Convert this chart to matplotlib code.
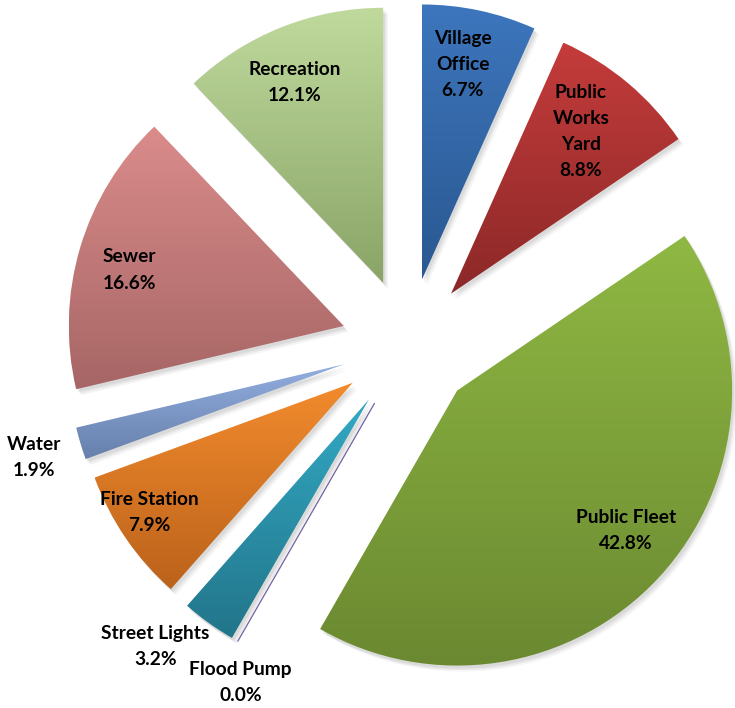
import matplotlib
matplotlib.use('Agg')
import matplotlib.pyplot as plt
import numpy as np
from matplotlib.colors import to_rgb
from matplotlib.patches import Wedge

# Data (clockwise from 12 o'clock)
categories = ['Village\nOffice', 'Public\nWorks\nYard', 'Public Fleet', 'Flood Pump',
              'Street Lights', 'Fire Station', 'Water', 'Sewer', 'Recreation']
shares = [6.7, 8.8, 42.8, 0.0, 3.2, 7.9, 1.9, 16.6, 12.1]

# Gradient colours (top, bottom) per slice
top_colors = ['#3d76bd', '#c43c3b', '#8fb843', '#7363a6', '#33a9c4',
              '#f28b2d', '#93afe0', '#da8c8b', '#bfda9c']
bottom_colors = ['#2a5891', '#8c2828', '#6b8931', '#5b4d8a', '#22758a',
                 '#bb621b', '#667fab', '#a66665', '#8aa468']

# Label placement: radius factor and small angle nudge (deg)
label_radius = [1.04, 1.0, 1.04, 1.37, 1.43, 1.12, 1.42, 1.05, 1.04]
label_nudge = [1, 1, 2.5, 3.5, -4.3, -1.5, 0, 1.5, 1.5]

W, H = 735, 708
CENTER = (408, H - 345)
RADIUS = 275
EXPLODE = 67  # pie() applies explode in data units

fig = plt.figure(figsize=(W / 100, H / 100), dpi=100)
ax = fig.add_axes([0, 0, 1, 1])

wedges, _ = ax.pie(
	shares, explode=[EXPLODE] * len(shares), startangle=90, counterclock=False,
	center=CENTER, radius=RADIUS, wedgeprops={'linewidth': 0, 'edgecolor': 'none'},
)

for i, w in enumerate(wedges):
	# soft shadow
	for k, a in enumerate([0.06, 0.05, 0.04]):
		sh = Wedge((w.center[0] + 2 + k * 1.5, w.center[1] - 3 - k * 1.5), w.r,
				   w.theta1, w.theta2, facecolor='black', alpha=a,
				   edgecolor='none', zorder=1)
		ax.add_patch(sh)

	if shares[i] == 0:
		w.set_facecolor('none')
		w.set_edgecolor(top_colors[i])
		w.set_linewidth(0.9)
		w.set_zorder(3)
		continue

	w.set_facecolor('none')
	w.set_zorder(3)
	ext = w.get_path().get_extents()
	c0 = np.array(to_rgb(top_colors[i]))
	c1 = np.array(to_rgb(bottom_colors[i]))
	t = np.linspace(0, 1, 256)[:, None]
	grad = (c0 * (1 - t) + c1 * t)[:, None, :]
	im = ax.imshow(grad, extent=[ext.x0, ext.x1, ext.y0, ext.y1], origin='upper',
				   aspect='auto', interpolation='bilinear', zorder=2)
	im.set_clip_path(w)

# labels
for i, w in enumerate(wedges):
	mid = np.deg2rad((w.theta1 + w.theta2) / 2 + label_nudge[i])
	r = RADIUS * label_radius[i]
	x = CENTER[0] + r * np.cos(mid)
	y = CENTER[1] + r * np.sin(mid)
	ax.text(x, y, f'{categories[i]}\n{shares[i]:.1f}%', ha='center', va='center',
			fontsize=13.8, fontweight='bold', family=['Lato', 'DejaVu Sans'],
			color='black', linespacing=1.65, zorder=5)

ax.set_xlim(0, W)
ax.set_ylim(0, H)
ax.set_aspect('equal')
ax.axis('off')

fig.savefig('out.png', dpi=100, facecolor='white')
